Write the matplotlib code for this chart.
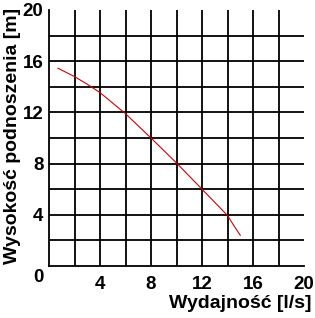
import numpy as np
import matplotlib
matplotlib.use("Agg")
import matplotlib.pyplot as plt

plt.rcParams['font.family'] = ['Liberation Sans', 'DejaVu Sans']

# pump curve
flow = [0.7, 2, 3, 4, 6, 8, 10, 12, 14, 14.5, 15]
head = [15.45, 14.8, 14.2, 13.55, 11.9, 10.0, 8.05, 6.0, 3.95, 3.15, 2.4]

xticks = [4, 8, 12, 16, 20]
yticks = [4, 8, 12, 16, 20]
grid_pos = np.arange(2, 20, 2)

W, H = 315, 318
fig = plt.figure(figsize=(W / 100, H / 100), dpi=100)
ax = fig.add_axes([49 / W, 1 - 266 / H, 255 / W, 256 / H])

for g in grid_pos:
    ax.axvline(g, color='black', lw=1.3)
    ax.axhline(g, color='black', lw=1.3)

ax.plot(flow, head, color='#d00000', lw=0.8, zorder=3)

ax.set_xlim(0, 20)
ax.set_ylim(0, 20)
ax.set_xticks(xticks)
ax.set_yticks(yticks)
ax.tick_params(which='both', length=0)
ax.tick_params(axis='x', pad=7, labelsize=13.5)
ax.tick_params(axis='y', pad=4, labelsize=13.5)
for lab in ax.get_xticklabels() + ax.get_yticklabels():
    lab.set_fontweight('bold')

for s in ['top', 'right']:
    ax.spines[s].set_visible(False)
for s in ['left', 'bottom']:
    ax.spines[s].set_linewidth(1.3)

fig.text(38 / W, 1 - 278 / H, '0', fontsize=13.5, fontweight='bold', ha='center', va='center')
fig.text(240 / W, 1 - 303 / H, 'Wydajność [l/s]', fontsize=14, fontweight='bold', ha='center', va='center')
fig.text(13 / W, 1 - 136 / H, 'Wysokość podnoszenia [m]', fontsize=14, fontweight='bold',
         ha='center', va='center', rotation=90)

fig.savefig('out.png', dpi=100)
